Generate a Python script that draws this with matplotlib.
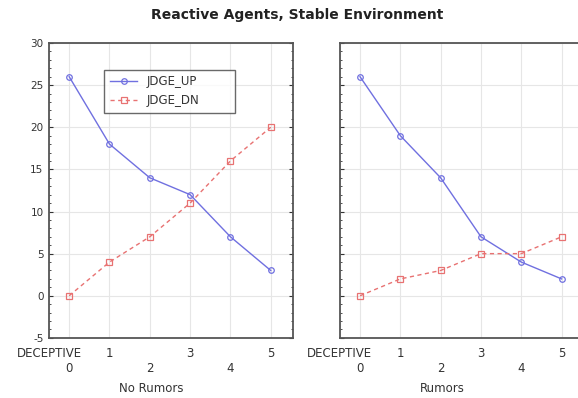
import matplotlib
matplotlib.use("Agg")
import matplotlib.pyplot as plt
from matplotlib.ticker import MultipleLocator, FixedLocator

plt.rcParams["font.family"] = ["DejaVu Sans"]
plt.rcParams["axes.unicode_minus"] = False

x_vals = [0, 1, 2, 3, 4, 5]

# panel 1: No Rumors
no_rumor_up = [26, 18, 14, 12, 7, 3]
no_rumor_dn = [0, 4, 7, 11, 16, 20]

# panel 2: Rumors
rumor_up = [26, 19, 14, 7, 4, 2]
rumor_dn = [0, 2, 3, 5, 5, 7]

row1_ticks = [-0.5, 1, 3, 5]
row1_labels = ["DECEPTIVE", "1", "3", "5"]
row2_ticks = [0, 2, 4]
row2_labels = ["0", "2", "4"]
y_ticks = [-5, 0, 5, 10, 15, 20, 25, 30]

BLUE = "#7070e0"
RED = "#e87272"
TXT = "#333333"


def style_panel(ax, xlabel, show_y):
    ax.set_xlim(-0.5, 5.55)
    ax.set_ylim(-5, 30)
    ax.xaxis.set_major_locator(FixedLocator(row2_ticks))
    ax.set_xticklabels(row2_labels)
    ax.xaxis.set_minor_locator(FixedLocator(row1_ticks))
    ax.set_xticklabels(row1_labels, minor=True)
    ax.tick_params(axis="x", which="major", pad=17.5, length=0, labelsize=8.5, colors=TXT)
    ax.tick_params(axis="x", which="minor", pad=6.5, length=0, labelsize=8.5, colors=TXT)
    ax.set_yticks(y_ticks)
    ax.yaxis.set_minor_locator(MultipleLocator(1))
    ax.tick_params(axis="y", which="both", direction="in", left=True, right=True,
                   labelleft=show_y, labelsize=7.5, colors=TXT, pad=4)
    ax.tick_params(axis="y", which="major", length=3)
    ax.tick_params(axis="y", which="minor", length=1.5)
    ax.xaxis.grid(True, which="both", color="#e6e6e6", lw=0.8)
    ax.yaxis.grid(True, which="major", color="#e6e6e6", lw=0.8)
    for s in ax.spines.values():
        s.set_color("#555555")
        s.set_linewidth(1.3)
    ax.set_xlabel(xlabel, fontsize=8.5, color=TXT, va="center")
    ax.xaxis.set_label_coords(0.42, -0.17)


fig = plt.figure(figsize=(5.78, 3.98), dpi=100)
ax1 = fig.add_axes([0.0848, 0.151, 0.422, 0.741])
ax2 = fig.add_axes([0.588, 0.151, 0.422, 0.741])

for ax, up, dn in [(ax1, no_rumor_up, no_rumor_dn), (ax2, rumor_up, rumor_dn)]:
    ax.plot(x_vals, up, color=BLUE, lw=1.0, marker="o", ms=4, mfc="none",
            mew=0.9, label="JDGE_UP")
    ax.plot(x_vals, dn, color=RED, lw=1.0, ls=(0, (3, 2.5)), marker="s", ms=4,
            mfc="none", mew=0.9, label="JDGE_DN")

style_panel(ax1, "No Rumors", True)
style_panel(ax2, "Rumors", False)

leg = ax1.legend(loc="upper left", bbox_to_anchor=(0.226, 0.76, 0.535, 0.15),
                 mode="expand", fontsize=8.5,
                 frameon=True, fancybox=False, edgecolor="#444444",
                 handlelength=2.3, borderpad=0.5, labelspacing=0.45,
                 handletextpad=0.8, borderaxespad=0)
leg.get_frame().set_linewidth(1.0)
for t in leg.get_texts():
    t.set_color(TXT)

fig.text(0.514, 0.962, "Reactive Agents, Stable Environment", ha="center",
         va="center", fontsize=10, fontweight="bold", color="#222222")

fig.savefig("out.png", dpi=100)
